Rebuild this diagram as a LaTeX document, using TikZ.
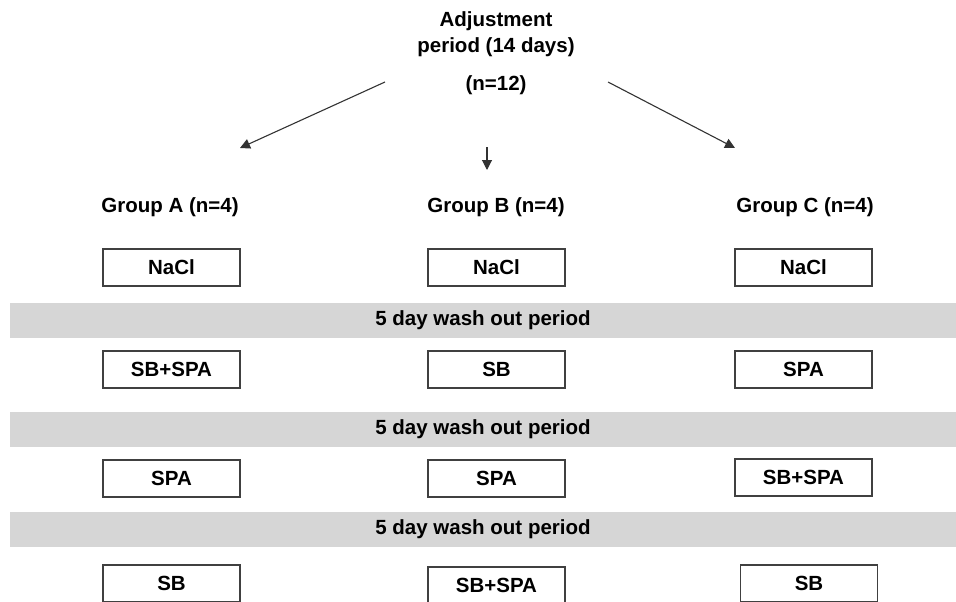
\documentclass[tikz,border=0pt]{standalone}
\usepackage{fontspec}
\setmainfont{Liberation Sans}
\usetikzlibrary{arrows.meta}
\begin{document}
\begin{tikzpicture}[x=1pt,y=-1pt,
  txt/.style={font=\fontsize{20.5}{26}\selectfont\bfseries, inner sep=0pt},
  trt/.style={draw=black!75, line width=1.1pt, minimum width=137pt, minimum height=37pt, inner sep=0pt, font=\fontsize{20.5}{24}\selectfont\bfseries},
  bar/.style={fill=black!16, draw=none, minimum width=946pt, minimum height=35pt, inner sep=0pt, font=\fontsize{20.5}{24}\selectfont\bfseries},
  arr/.style={draw=black!80, line width=1.1pt, -{Triangle[length=10pt,width=10pt]}}]
\useasboundingbox (0,0) rectangle (956,602);
% title
\node[txt, align=center] (adj) at (496,34) {Adjustment\\period (14 days)};
\node[txt] (n12) at (496,85) {(n=12)};
% arrow endpoints
\coordinate (la) at (385,82);
\coordinate (ra) at (608,82);
\coordinate (ma) at (487,147);
% groups
\node[txt] (ga) at (170,207) {Group A (n=4)};
\node[txt] (gb) at (496,207) {Group B (n=4)};
\node[txt] (gc) at (805,207) {Group C (n=4)};
\coordinate (ta) at (240,148);
\coordinate (tb) at (487,170);
\coordinate (tc) at (735,148);
\draw[arr] (la) -- (ta);
\draw[arr] (ra) -- (tc);
\draw[arr] (ma) -- (tb);
% row 1
\node[trt] (a1) at (171.5,267.5) {NaCl};
\node[trt] (b1) at (496.5,267.5) {NaCl};
\node[trt] (c1) at (803.5,267.5) {NaCl};
\node[bar] (w1) at (483,320.5) {5 day wash out period};
% row 2
\node[trt] (a2) at (171.5,369.5) {SB+SPA};
\node[trt] (b2) at (496.5,369.5) {SB};
\node[trt] (c2) at (803.5,369.5) {SPA};
\node[bar] (w2) at (483,429.5) {5 day wash out period};
% row 3
\node[trt] (a3) at (171.5,478.5) {SPA};
\node[trt] (b3) at (496.5,478.5) {SPA};
\node[trt] (c3) at (803.5,477.5) {SB+SPA};
\node[bar] (w3) at (483,529.5) {5 day wash out period};
% row 4
\node[trt] (a4) at (171.5,583.5) {SB};
\node[trt] (b4) at (496.5,585.5) {SB+SPA};
\node[trt] (c4) at (809,583.5) {SB};
\end{tikzpicture}
\end{document}
